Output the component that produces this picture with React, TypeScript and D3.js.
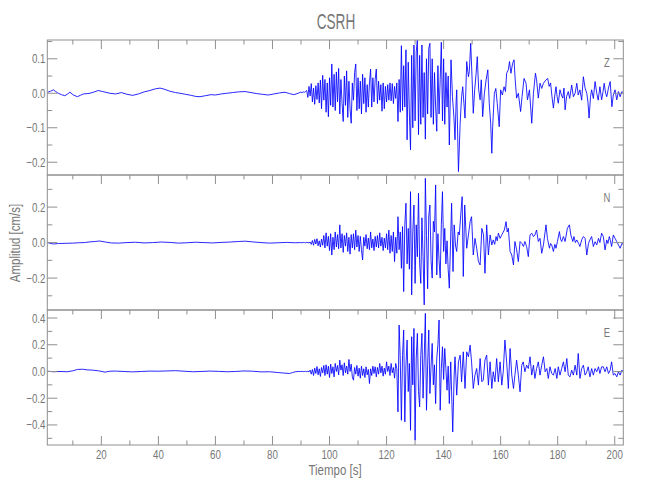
import React from 'react';
import * as d3 from 'd3';

// ---------------- DATA ----------------
const STATION = 'CSRH';
const COMPONENTS = ['Z', 'N', 'E'];
const X_LABEL = 'Tiempo [s]';
const Y_LABEL = 'Amplitud [cm/s]';
const X_DOMAIN: [number, number] = [1.05, 203.0];
const X_MAJOR = [20, 40, 60, 80, 100, 120, 140, 160, 180, 200];
const X_MINOR = [10, 30, 50, 70, 90, 110, 130, 150, 170, 190];
const Y_DOMAINS: [number, number][] = [[-0.237, 0.1545], [-0.38, 0.381], [-0.55, 0.46]];
const Y_MAJOR = [[0.1, 0, -0.1, -0.2], [0.2, 0, -0.2], [0.4, 0.2, 0, -0.2, -0.4]];
const Y_MINOR = [[0.15, 0.05, -0.05, -0.15], [0.3, 0.1, -0.1, -0.3], [0.3, 0.1, -0.1, -0.3, -0.5]];

// amplitudes in 0.001 cm/s; times in s
// dense part of each record: sampled every DENSE_DT seconds from DENSE_T0
const DENSE_T0 = 90;
const DENSE_DT = 0.4;

const zQuiet: [number, number][] = [[1.1,3],[2.2,6],[3.2,10],[4.0,5],[4.9,0],[6.0,-4],[7.2,-7],[8.2,-2],[9.0,3],[10.2,-5],[11.6,-10],[12.6,-6],[13.7,-2],[15.0,-1],[16.0,0],[17.5,4],[18.9,8],[20.5,5],[23.0,0],[25.0,-2],[27.0,2],[29.0,-3],[31.0,-6],[33.0,-2],[35.0,4],[37.0,8],[39.0,13],[40.6,15],[42.0,12],[44.0,6],[46.0,2],[47.6,0],[49.5,-3],[51.5,-6],[53.0,-9],[54.6,-10],[56.5,-7],[58.5,-4],[60.0,-5],[62.0,-2],[64.0,0],[66.0,2],[68.0,4],[70.4,5],[72.5,2],[74.5,-1],[76.5,-3],[78.5,-5],[80.5,-2],[82.5,1],[84.4,3],[86.0,-1],[87.5,-4],[89.0,0],[89.8,3]];
const zDense = [3,2,4,3,5,8,-12,20,-8,28,-25,15,-32,22,-18,30,-28,38,-45,52,-20,40,-55,30,-68,45,-35,85,-40,55,-50,62,-25,72,-60,40,-30,-82,50,-35,65,-70,35,-45,-87,30,-20,60,85,-50,45,-45,35,-60,55,-30,45,-55,25,-40,30,70,-40,45,-25,40,70,-30,35,-20,25,-52,30,-45,20,-25,25,-20,30,-22,28,-30,20,-15,30,-82,40,-55,138,-50,80,-40,126,-135,90,-60,-164,110,-100,140,-80,120,155,-120,110,-90,140,-70,60,-133,100,-60,130,145,-70,100,-90,60,-40,-110,80,-60,40,148,-80,100,-90,60,-40,50,-150];
const zCoda: [number, number][] = [[142.6,97],[143.1,-10],[143.6,-68],[144.0,-135],[144.4,-20],[144.6,10],[145.2,-227],[145.8,-87],[146.3,-10],[146.7,19],[147.5,-72],[148.1,92],[148.7,48],[149.0,63],[149.5,145],[150.0,39],[150.4,-58],[150.9,10],[151.4,58],[151.8,106],[152.3,10],[152.8,-19],[153.2,39],[153.7,-68],[154.3,0],[154.9,39],[155.5,68],[156.0,-29],[156.5,-87],[156.9,-174],[157.2,-97],[157.8,0],[158.3,14],[158.8,-29],[159.5,-97],[160.0,10],[160.6,-5],[161.2,19],[161.7,5],[162.1,58],[162.7,68],[163.1,92],[163.6,58],[164.2,87],[164.7,97],[165.1,39],[165.6,-14],[166.2,0],[167.0,-53],[167.5,-10],[168.2,43],[168.9,29],[169.4,-19],[170.1,10],[170.9,-87],[171.5,0],[172.2,58],[172.6,39],[173.2,-14],[173.8,29],[174.4,14],[175.0,29],[175.9,39],[176.5,43],[177.0,20],[177.5,30],[178.0,-10],[178.5,-43],[179.0,-5],[179.4,19],[179.8,-10],[180.2,-29],[180.8,10],[181.3,-5],[181.8,-14],[182.2,15],[182.6,-48],[183.1,-10],[183.7,5],[184.2,-15],[184.9,24],[185.5,-10],[186.1,0],[186.7,29],[187.2,-5],[187.8,10],[188.4,-20],[189.0,48],[189.6,15],[190.2,0],[190.6,-25],[191.0,-72],[191.5,-10],[191.9,10],[192.5,-15],[193.1,34],[193.7,0],[194.2,-20],[194.8,19],[195.4,-19],[195.9,5],[196.3,29],[196.8,0],[197.2,-10],[197.8,15],[198.4,34],[199.0,-39],[199.5,-5],[200.1,10],[200.7,-19],[201.3,5],[201.9,-10],[202.5,5],[203.2,0]];

const nQuiet: [number, number][] = [[1.1,0],[3.2,-8],[5.0,-5],[7.5,-4],[10.0,-3],[12.0,-1],[14.0,0],[16.0,4],[17.7,6],[19.4,9],[21.5,3],[23.5,-2],[26.0,-3],[29.0,0],[32.0,2],[35.0,-2],[38.0,0],[41.0,3],[44.0,1],[47.0,-3],[50.0,-1],[53.0,2],[56.0,0],[59.0,-2],[62.0,1],[65.0,3],[68.0,6],[70.5,8],[73.0,4],[76.0,0],[79.0,-3],[82.0,-1],[85.0,1],[88.0,-1],[89.8,0]];
const nDense = [0,-1,1,0,-1,1,0,-2,3,-10,12,-15,18,-8,22,-18,10,-25,20,-15,40,-30,55,-20,35,-45,50,-70,30,-40,60,-25,45,-35,100,-30,50,-55,40,-20,55,-50,30,-65,45,-30,50,-40,70,-25,40,-50,35,-40,-98,30,-20,45,-35,25,-40,60,-30,20,-45,35,-25,40,-30,55,-20,30,-45,25,-30,50,-40,70,-60,40,-50,60,-107,30,-60,146,-40,60,-145,90,-276,100,222,-120,80,-150,287,-295,60,212,-230,100,-80,278,-120,-230,140,-80,-351,362,40,-260,150,212,-100,-200,120,60,325,-182,50,-100,-200,100,287,-50,80,-120,10,-150,-257];
const nCoda: [number, number][] = [[142.8,222],[143.3,-163],[143.7,100],[144.2,-20],[144.6,-50],[145.1,60],[145.5,43],[146.0,155],[146.5,259],[146.9,-191],[147.4,212],[148.1,-32],[148.7,43],[149.3,118],[149.8,146],[150.4,-70],[151.0,24],[151.6,-32],[152.2,-107],[152.8,-126],[153.4,80],[154.0,43],[154.5,-173],[155.1,100],[155.7,-70],[156.3,43],[156.9,-13],[157.4,15],[157.9,-10],[158.4,34],[158.8,10],[159.2,53],[159.8,24],[160.3,40],[160.7,53],[161.3,71],[161.9,118],[162.3,60],[162.7,81],[163.3,-50],[163.9,-70],[164.5,-126],[165.0,6],[165.6,-41],[166.2,-107],[166.8,6],[167.4,-4],[168.0,-22],[168.5,6],[169.1,-22],[169.7,-79],[170.3,43],[170.9,53],[171.5,34],[172.0,43],[172.6,71],[173.2,6],[173.8,24],[174.4,-60],[175.0,-13],[175.9,100],[176.4,24],[177.1,-32],[177.5,-5],[177.9,-13],[178.5,-50],[179.0,-10],[179.4,-32],[179.9,6],[180.6,62],[181.0,20],[181.4,6],[182.0,34],[182.6,6],[183.4,81],[184.1,100],[184.6,43],[185.3,6],[185.7,34],[186.2,0],[186.7,15],[187.3,-4],[187.8,-22],[188.4,15],[189.0,34],[189.6,24],[190.2,-70],[190.8,-4],[191.3,15],[191.9,34],[192.5,-22],[193.1,5],[193.7,-13],[194.3,24],[194.8,0],[195.4,53],[196.0,34],[196.6,-41],[197.2,15],[197.6,-5],[198.1,34],[198.5,10],[198.9,-22],[199.5,43],[200.1,24],[200.7,6],[201.3,-13],[201.9,-32],[202.5,-5],[203.2,-10]];

const eQuiet: [number, number][] = [[1.1,2],[3.2,-2],[5.5,0],[8.0,-2],[10.0,5],[11.6,15],[13.4,17],[15.0,12],[17.0,10],[19.0,5],[21.3,-5],[23.0,2],[25.0,3],[28.0,0],[31.0,-3],[34.0,0],[37.0,3],[40.0,2],[43.0,4],[46.0,6],[49.0,2],[52.0,-2],[55.0,0],[58.0,3],[61.0,1],[64.0,-2],[67.0,0],[70.0,4],[73.0,2],[76.0,-3],[79.0,-2],[82.0,-8],[84.0,-12],[86.0,-15],[87.0,-8],[88.0,-2],[89.0,0],[89.8,0]];
const eDense = [0,1,-1,0,1,-1,2,-3,10,-20,15,-30,25,-15,37,-25,20,-37,30,-10,45,-30,50,-20,40,-45,55,-15,35,-40,60,0,45,-25,85,10,50,-30,65,-10,40,-20,90,0,55,-40,-65,30,-20,45,-35,25,-50,40,-30,20,-45,35,-25,15,-90,20,-30,40,-15,35,-40,30,-20,60,-10,40,-35,25,-20,72,0,40,-30,60,-10,30,-50,60,20,-302,347,100,-365,120,310,-377,50,235,-150,60,-440,260,-100,322,-515,100,285,-150,-265,120,285,-200,100,435,-290,50,310,-165,40,210,-100,50,-240,100,200,385,-290,20,185,-60,172,20,-140,40,-240];
const eCoda: [number, number][] = [[142.5,72],[142.8,-152],[143.2,-452],[143.7,-27],[144.0,110],[144.6,-177],[145.2,72],[145.8,122],[146.3,-77],[146.9,147],[147.5,-127],[148.1,147],[148.7,110],[149.3,197],[149.8,72],[150.4,-127],[151.0,-27],[151.6,22],[152.2,-102],[152.8,97],[153.4,-77],[153.9,-65],[154.5,85],[155.1,122],[155.7,-102],[156.3,72],[156.9,-127],[157.4,-2],[158.0,-77],[158.6,97],[159.2,-77],[159.8,72],[160.4,-102],[160.9,-2],[161.5,235],[162.1,72],[162.7,-127],[163.3,172],[163.9,-27],[164.5,-127],[165.0,-27],[165.6,85],[166.2,-27],[166.8,-152],[167.4,47],[167.9,72],[168.5,-2],[169.1,47],[169.7,22],[170.3,110],[170.9,-27],[171.5,47],[172.0,-52],[172.6,22],[173.2,72],[173.8,-27],[174.4,47],[175.0,110],[175.6,-2],[176.2,22],[176.7,-52],[177.3,35],[177.9,-15],[178.5,-27],[179.1,22],[179.7,-52],[180.2,35],[180.8,-27],[181.4,22],[182.0,72],[182.6,-2],[183.2,97],[183.7,-27],[184.3,-40],[184.9,10],[185.5,-27],[186.1,47],[186.7,-27],[187.2,135],[187.8,-52],[188.4,22],[189.0,47],[189.6,-27],[190.2,-2],[190.7,35],[191.3,-40],[191.9,22],[192.5,-27],[193.1,22],[193.7,-2],[194.3,35],[194.8,-15],[195.4,35],[196.0,35],[196.6,-2],[197.2,35],[197.8,-15],[198.4,10],[198.9,72],[199.5,-27],[200.1,-15],[200.7,-40],[201.3,-2],[201.9,-27],[202.5,10],[203.2,-5]];

// ---------------- LAYOUT ----------------
const W = 650, H = 500;
const LEFT = 47.3, RIGHT = 623.3;
const PANEL_TOPS = [40, 175, 310];
const PANEL_H = 135;
const AXIS_COLOR = '#8f8f8f';
const TEXT_COLOR = '#777777';
const TRACE_COLOR = '#0000ff';
const FONT = 'Liberation Sans, Arial, sans-serif';

function buildTrace(quiet: [number, number][], dense: number[], coda: [number, number][]): [number, number][] {
  const pts: [number, number][] = [];
  quiet.forEach(([t, v]) => pts.push([t, v / 1000]));
  dense.forEach((v, i) => pts.push([DENSE_T0 + i * DENSE_DT, v / 1000]));
  coda.forEach(([t, v]) => pts.push([t, v / 1000]));
  return pts;
}

const TRACES = [
  buildTrace(zQuiet, zDense, zCoda),
  buildTrace(nQuiet, nDense, nCoda),
  buildTrace(eQuiet, eDense, eCoda),
];

function NText(props: { x: number; y: number; size: number; sx: number; anchor?: string; rotate?: number; children: React.ReactNode }) {
  const { x, y, size, sx, anchor = 'start', rotate = 0, children } = props;
  return (
    <g transform={`translate(${x},${y}) rotate(${rotate}) scale(${sx},1)`}>
      <text x={0} y={0} fontSize={size} fontFamily={FONT} fill={TEXT_COLOR} textAnchor={anchor}>
        {children}
      </text>
    </g>
  );
}

export default function App() {
  const x = d3.scaleLinear().domain(X_DOMAIN).range([LEFT, RIGHT]);
  const fmt = d3.format('.1f');

  return (
    <svg width={W} height={H} style={{ position: 'absolute', left: 0, top: 0, background: '#fff' }}>
      <rect x={0} y={0} width={W} height={H} fill="#fff" />
      <defs>
        {PANEL_TOPS.map((top, i) => (
          <clipPath id={`clip${i}`} key={i}>
            <rect x={LEFT} y={top} width={RIGHT - LEFT} height={PANEL_H} />
          </clipPath>
        ))}
      </defs>
      {PANEL_TOPS.map((top, i) => {
        const y = d3.scaleLinear().domain(Y_DOMAINS[i]).range([top + PANEL_H, top]);
        const line = d3.line<[number, number]>().x(d => x(d[0])).y(d => y(d[1]));
        const bottom = top + PANEL_H;
        return (
          <g key={i}>
            <path d={line(TRACES[i]) || ''} fill="none" stroke={TRACE_COLOR} strokeWidth={0.85} strokeLinejoin="round" clipPath={`url(#clip${i})`} />
            <rect x={LEFT} y={top} width={RIGHT - LEFT} height={PANEL_H} fill="none" stroke={AXIS_COLOR} strokeWidth={1} />
            {Y_MAJOR[i].map(v => (
              <g key={`ym${v}`}>
                <line x1={LEFT} x2={LEFT + 10} y1={y(v)} y2={y(v)} stroke={AXIS_COLOR} />
                <line x1={RIGHT} x2={RIGHT - 10} y1={y(v)} y2={y(v)} stroke={AXIS_COLOR} />
                <NText x={45.5} y={y(v) + 4.5} size={13} sx={0.75} anchor="end">{fmt(v)}</NText>
              </g>
            ))}
            {Y_MINOR[i].map(v => (
              <g key={`yn${v}`}>
                <line x1={LEFT} x2={LEFT + 5} y1={y(v)} y2={y(v)} stroke={AXIS_COLOR} />
                <line x1={RIGHT} x2={RIGHT - 5} y1={y(v)} y2={y(v)} stroke={AXIS_COLOR} />
              </g>
            ))}
            {X_MAJOR.map(t => (
              <line key={`xm${t}`} x1={x(t)} x2={x(t)} y1={top} y2={top + 9} stroke={AXIS_COLOR} />
            ))}
            {X_MINOR.map(t => (
              <line key={`xn${t}`} x1={x(t)} x2={x(t)} y1={top} y2={top + 4.5} stroke={AXIS_COLOR} />
            ))}
            {i === 2 && X_MAJOR.map(t => (
              <g key={`xb${t}`}>
                <line x1={x(t)} x2={x(t)} y1={bottom} y2={bottom - 9} stroke={AXIS_COLOR} />
                <NText x={x(t)} y={458.5} size={13} sx={0.75} anchor="middle">{String(t)}</NText>
              </g>
            ))}
            {i === 2 && X_MINOR.map(t => (
              <line key={`xbn${t}`} x1={x(t)} x2={x(t)} y1={bottom} y2={bottom - 4.5} stroke={AXIS_COLOR} />
            ))}
            <NText x={607} y={top + 26.5} size={13.5} sx={0.7} anchor="middle">{COMPONENTS[i]}</NText>
          </g>
        );
      })}
      <NText x={336} y={29.3} size={22} sx={0.62} anchor="middle">{STATION}</NText>
      <NText x={335} y={475} size={14} sx={0.82} anchor="middle">{X_LABEL}</NText>
      <NText x={19.5} y={243} size={14} sx={0.82} anchor="middle" rotate={-90}>{Y_LABEL}</NText>
    </svg>
  );
}
